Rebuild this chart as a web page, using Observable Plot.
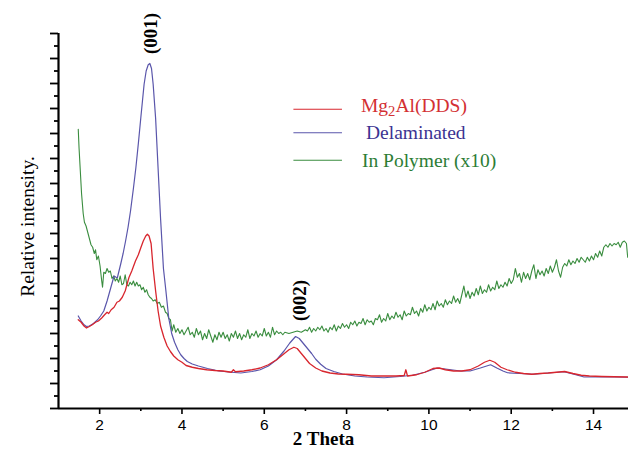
<!DOCTYPE html>
<html>
<head>
<meta charset="utf-8">
<script src="https://cdn.jsdelivr.net/npm/d3@7"></script>
<script src="https://cdn.jsdelivr.net/npm/@observablehq/plot@0.6"></script>
<style>
  html, body { margin: 0; padding: 0; background: #fff; }
  svg { display: block; }
</style>
</head>
<body>
<script>
// ---------- data ----------
const seriesNames = ["Mg2Al(DDS)", "Delaminated", "In Polymer (x10)"];
const xTickValues = [2, 4, 6, 8, 10, 12, 14];
const xMinorTicks = [3, 5, 7, 9, 11, 13];
const yMajorTicks = [0,1,2,3,4,5,6,7,8,9,10,11,12,13,14,15];
const yMinorTicks = [0.5,1.5,2.5,3.5,4.5,5.5,6.5,7.5,8.5,9.5,10.5,11.5,12.5,13.5,14.5];
const peakLabels = ["(001)", "(002)"];
const peakTheta = [3.25, 6.86];
const peakIntensity = [15.0, 4.32];

const redTheta = [1.48,1.55,1.62,1.68,1.75,1.82,1.90,1.97,2.05,2.12,2.18,2.22,2.28,2.35,2.42,2.48,2.55,2.62,2.71,2.78,2.87,2.94,3.00,3.06,3.12,3.16,3.20,3.25,3.30,3.36,3.42,3.48,3.56,3.64,3.72,3.80,3.90,4.00,4.10,4.25,4.40,4.60,4.80,5.00,5.20,5.25,5.30,5.50,5.70,5.90,6.10,6.30,6.45,6.60,6.72,6.80,6.90,7.00,7.10,7.25,7.40,7.60,7.80,8.00,8.30,8.60,8.90,9.20,9.40,9.44,9.48,9.70,9.90,10.10,10.25,10.40,10.60,10.80,11.00,11.20,11.35,11.48,11.60,11.75,11.90,12.10,12.30,12.50,12.70,12.90,13.10,13.30,13.50,13.70,13.90,14.20,14.50,14.85];
const redIntensity = [3.55,3.45,3.30,3.22,3.28,3.35,3.45,3.50,3.62,3.75,3.85,3.80,3.95,4.05,4.25,4.30,4.45,4.70,5.23,5.50,5.90,6.15,6.43,6.70,6.90,6.97,6.90,6.60,5.60,4.70,3.90,3.30,2.85,2.50,2.28,2.10,1.95,1.85,1.72,1.65,1.60,1.55,1.52,1.50,1.45,1.55,1.47,1.50,1.55,1.62,1.75,1.95,2.15,2.35,2.45,2.40,2.20,2.00,1.80,1.62,1.50,1.42,1.38,1.37,1.35,1.30,1.30,1.30,1.32,1.55,1.30,1.35,1.45,1.60,1.62,1.55,1.50,1.50,1.55,1.70,1.85,1.93,1.85,1.65,1.55,1.45,1.40,1.37,1.40,1.42,1.45,1.48,1.40,1.33,1.30,1.28,1.27,1.26];

const blueTheta = [1.48,1.55,1.62,1.68,1.75,1.85,1.95,2.02,2.10,2.18,2.27,2.35,2.40,2.43,2.51,2.57,2.63,2.69,2.75,2.82,2.88,2.94,3.00,3.04,3.08,3.13,3.18,3.22,3.26,3.30,3.36,3.42,3.48,3.55,3.61,3.68,3.75,3.82,3.90,3.97,4.05,4.13,4.25,4.40,4.62,4.90,5.20,5.43,5.70,5.90,6.10,6.30,6.48,6.62,6.76,6.85,6.95,7.05,7.15,7.25,7.37,7.50,7.69,7.90,8.20,8.50,8.91,9.30,9.60,9.90,10.20,10.40,10.77,11.00,11.25,11.50,11.65,11.80,11.91,12.20,12.55,12.90,13.28,13.50,13.77,14.20,14.85];
const blueIntensity = [3.70,3.50,3.35,3.28,3.30,3.40,3.55,3.70,3.90,4.30,4.83,5.30,5.25,5.23,5.77,6.20,6.70,7.25,7.90,8.80,9.63,10.60,11.63,12.30,12.97,13.50,13.75,13.80,13.60,12.97,11.60,9.60,7.60,5.60,4.70,3.60,3.00,2.65,2.35,2.15,2.00,1.88,1.78,1.70,1.60,1.50,1.45,1.42,1.48,1.55,1.70,1.95,2.30,2.62,2.88,2.80,2.60,2.40,2.20,1.97,1.77,1.60,1.48,1.38,1.30,1.26,1.23,1.28,1.33,1.45,1.62,1.58,1.50,1.50,1.62,1.75,1.62,1.50,1.43,1.40,1.37,1.42,1.47,1.38,1.26,1.27,1.25];

const greenTheta = [1.48,1.50,1.53,1.56,1.60,1.63,1.67,1.71,1.75,1.79,1.83,1.87,1.90,1.93,1.97,2.01,2.05,2.07,2.10,2.14,2.18,2.22,2.26,2.30,2.34,2.38,2.42,2.46,2.50,2.54,2.58,2.62,2.66,2.70,2.74,2.78,2.82,2.86,2.90,2.94,2.98,3.02,3.06,3.10,3.14,3.18,3.22,3.26,3.30,3.35,3.40,3.45,3.50,3.55,3.60,3.64,3.68,3.72,3.76,3.80,3.85,3.90,3.95,4.00,4.05,4.10,4.15,4.20,4.25,4.30,4.35,4.40,4.45,4.50,4.55,4.60,4.65,4.70,4.75,4.80,4.85,4.90,4.95,5.00,5.05,5.10,5.15,5.20,5.25,5.30,5.35,5.40,5.45,5.50,5.55,5.60,5.65,5.70,5.75,5.80,5.85,5.90,5.95,6.00,6.05,6.10,6.15,6.20,6.25,6.30,6.35,6.40,6.45,6.50,6.60,6.70,6.80,6.90,7.00,7.05,7.10,7.15,7.20,7.25,7.30,7.35,7.40,7.45,7.50,7.55,7.60,7.65,7.70,7.75,7.80,7.85,7.90,7.95,8.00,8.05,8.10,8.15,8.20,8.25,8.30,8.35,8.40,8.45,8.50,8.55,8.60,8.65,8.70,8.75,8.80,8.85,8.90,8.95,9.00,9.05,9.10,9.15,9.20,9.25,9.30,9.35,9.40,9.45,9.50,9.55,9.60,9.65,9.70,9.75,9.80,9.85,9.90,9.95,10.00,10.05,10.10,10.15,10.20,10.25,10.30,10.35,10.40,10.45,10.50,10.55,10.60,10.65,10.70,10.75,10.80,10.85,10.90,10.95,11.00,11.05,11.10,11.15,11.20,11.25,11.30,11.35,11.40,11.45,11.50,11.55,11.60,11.65,11.70,11.75,11.80,11.85,11.90,11.95,12.00,12.05,12.10,12.15,12.20,12.25,12.30,12.35,12.40,12.45,12.50,12.55,12.60,12.65,12.70,12.75,12.80,12.85,12.90,12.95,13.00,13.05,13.10,13.15,13.20,13.25,13.30,13.35,13.40,13.45,13.50,13.55,13.60,13.65,13.70,13.75,13.80,13.85,13.90,13.95,14.00,14.05,14.10,14.15,14.20,14.25,14.30,14.35,14.40,14.45,14.50,14.55,14.60,14.65,14.70,14.75,14.80,14.83];
const greenIntensity = [11.17,10.40,9.50,8.60,7.80,7.45,7.30,7.05,6.80,6.55,6.45,6.20,6.35,5.95,6.10,5.70,5.10,4.85,5.45,5.40,5.60,5.45,5.50,5.20,5.30,5.10,5.20,5.05,5.30,4.95,5.00,5.35,4.95,4.90,5.05,4.95,5.10,4.90,5.05,4.90,4.95,4.75,4.85,4.65,4.75,4.55,4.45,4.40,4.30,4.35,4.20,4.25,4.05,4.10,3.85,3.80,3.60,3.55,3.10,3.35,3.05,3.20,3.00,3.15,2.95,3.10,3.25,2.95,3.05,2.85,3.20,2.95,3.10,2.75,3.00,2.80,3.15,2.90,2.65,2.95,2.75,3.05,2.85,3.05,2.80,2.95,2.70,3.00,2.85,3.10,2.80,3.00,2.75,2.95,2.85,3.15,2.80,3.00,2.90,3.10,2.85,3.00,2.90,3.20,2.90,3.05,2.85,3.25,2.95,3.10,3.00,3.05,2.95,3.05,3.00,3.05,3.10,3.05,3.15,3.10,3.25,3.05,3.20,3.10,3.25,3.15,3.30,3.10,3.20,3.05,3.25,3.15,3.35,3.10,3.30,3.20,3.40,3.25,3.35,3.20,3.45,3.35,3.50,3.30,3.45,3.40,3.60,3.35,3.55,3.45,3.50,3.35,3.60,3.55,3.75,3.45,3.60,3.50,3.80,3.55,3.70,3.60,3.85,3.65,3.75,3.55,3.90,3.70,3.80,3.75,4.05,3.80,3.90,3.70,4.00,3.85,4.15,3.90,4.05,3.95,4.20,3.95,4.30,4.10,4.20,4.05,4.35,4.15,4.30,4.20,4.50,4.25,4.40,4.20,4.55,4.90,4.45,4.70,4.40,4.65,4.50,4.80,4.55,4.90,4.60,4.75,4.65,4.95,4.70,4.85,4.75,5.10,4.80,4.95,4.85,5.05,4.90,5.20,5.00,5.15,5.60,5.25,5.40,5.05,5.45,5.20,5.40,5.15,5.50,5.75,5.20,5.55,5.35,5.50,5.30,5.60,5.40,5.70,5.45,5.65,5.95,5.50,5.25,5.65,5.80,5.70,5.95,5.75,5.90,5.80,6.00,5.85,6.05,5.95,5.85,6.05,5.90,6.10,5.95,6.20,6.05,6.30,6.10,6.45,6.55,6.45,6.60,6.50,6.60,6.55,6.65,6.45,6.65,6.70,6.60,6.05];

// ---------- build rows ----------
const colors = ["#d8262e", "#5a56ab", "#3a8d3f"];
const textColors = ["#d33033", "#3b3392", "#2c7d35"];
const rows = [];
redTheta.forEach((t, i) => rows.push({theta: t, value: redIntensity[i], s: seriesNames[0]}));
blueTheta.forEach((t, i) => rows.push({theta: t, value: blueIntensity[i], s: seriesNames[1]}));
greenTheta.forEach((t, i) => rows.push({theta: t, value: greenIntensity[i], s: seriesNames[2]}));
const peaks = peakLabels.map((l, i) => ({label: l, theta: peakTheta[i], value: peakIntensity[i]}));

// legend placement (data units / pixel nudges)
const legendLineX1 = 6.72, legendLineX2 = 7.90, legendTextX = 8.35;
const legendLineY = [11.97, 11.03, 9.93];
const legendTextY = [12.12, 11.02, 9.92];
const legendTextDx = [0, 5, 1];

const serif = "'Liberation Serif', 'Times New Roman', serif";
const empty = () => "";

const chart = Plot.plot({
  width: 628,
  height: 449,
  marginLeft: 58,
  marginRight: 0,
  marginTop: 33,
  marginBottom: 41,
  x: {domain: [1, 14.85]},
  y: {domain: [0, 15]},
  style: {fontFamily: "'Liberation Sans', Arial, sans-serif", fontSize: "15.5px", background: "#fff", color: "#000", overflow: "visible"},
  marks: [
    Plot.axisY({ticks: yMajorTicks, tickSize: 8, tickFormat: empty, strokeWidth: 1.8, label: null}),
    Plot.axisY({ticks: yMinorTicks, tickSize: 4, tickFormat: empty, strokeWidth: 1.8, label: null}),
    Plot.axisX({ticks: xTickValues, tickSize: 6, tickPadding: 4, strokeWidth: 1.6, label: null}),
    Plot.axisX({ticks: xMinorTicks, tickSize: 3, tickFormat: empty, strokeWidth: 1.6, label: null}),
    Plot.ruleX([1], {stroke: "#000", strokeWidth: 2.2}),
    Plot.ruleY([0], {stroke: "#000", strokeWidth: 2.2}),
    Plot.line(rows.filter(d => d.s === seriesNames[2]), {x: "theta", y: "value", stroke: colors[2], strokeWidth: 1.1}),
    Plot.line(rows.filter(d => d.s === seriesNames[1]), {x: "theta", y: "value", stroke: colors[1], strokeWidth: 1.2}),
    Plot.line(rows.filter(d => d.s === seriesNames[0]), {x: "theta", y: "value", stroke: colors[0], strokeWidth: 1.3}),
    // peak labels
    Plot.text(peaks, {x: "theta", y: "value", text: "label", rotate: -90, fontFamily: serif, fontWeight: "bold", fontSize: 19, fill: "#000"}),
    // legend
    Plot.ruleY(seriesNames, {y: (d, i) => legendLineY[i], x1: legendLineX1, x2: legendLineX2, stroke: (d, i) => colors[i], strokeWidth: 1.2}),
    ...seriesNames.map((name, i) => Plot.text([name], {x: legendTextX, y: legendTextY[i], text: d => d, textAnchor: "start", dx: legendTextDx[i], fill: textColors[i], fontFamily: serif, fontSize: 19.5})),
    // axis titles
    Plot.text(["2 Theta"], {frameAnchor: "bottom", text: d => d, textAnchor: "middle", dx: -20, dy: 36.5, lineAnchor: "bottom", fontFamily: serif, fontWeight: "bold", fontSize: 19, fill: "#000"}),
    Plot.text(["Relative intensity."], {frameAnchor: "left", text: d => d, textAnchor: "middle", rotate: -90, dx: -25, dy: 5.5, lineAnchor: "bottom", fontFamily: serif, fontSize: 19.5, fill: "#000"})
  ]
});

document.body.appendChild(chart);

// subscript in the chemical formula
d3.select(chart).selectAll("text").each(function() {
  if (this.textContent === "Mg2Al(DDS)") {
    const t = d3.select(this);
    t.text(null);
    t.append("tspan").text("Mg");
    t.append("tspan").attr("dy", 4).attr("font-size", "0.75em").text("2");
    t.append("tspan").attr("dy", -4).text("Al(DDS)");
  }
});
</script>
</body>
</html>
